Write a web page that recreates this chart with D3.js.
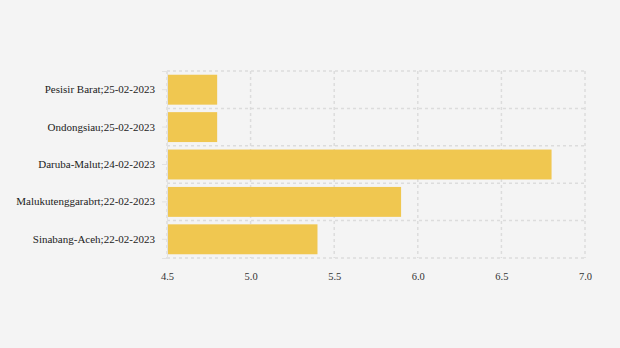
<!DOCTYPE html>
<html>
<head>
<meta charset="utf-8">
<script src="https://cdn.jsdelivr.net/npm/d3@7"></script>
<style>
  html, body { margin: 0; padding: 0; background: #f4f4f4; }
  svg { display: block; }
  svg text { font-family: "Liberation Serif", "Times New Roman", Times, serif; }
</style>
</head>
<body>
<div id="chart"></div>
<script>
// Earthquake magnitudes by location and date
const categories = [
  "Pesisir Barat;25-02-2023",
  "Ondongsiau;25-02-2023",
  "Daruba-Malut;24-02-2023",
  "Malukutenggarabrt;22-02-2023",
  "Sinabang-Aceh;22-02-2023"
];
const magnitudes = [4.8, 4.8, 6.8, 5.9, 5.4];
const xTicks = [4.5, 5.0, 5.5, 6.0, 6.5, 7.0];

const width = 620, height = 348;
const margin = { top: 71, right: 35, bottom: 90, left: 167 };
const innerW = width - margin.left - margin.right;
const innerH = height - margin.top - margin.bottom;
const serif = "'Liberation Serif', 'Times New Roman', Times, serif";

const svg = d3.select("#chart").append("svg")
  .attr("width", width).attr("height", height);
svg.append("rect").attr("width", width).attr("height", height).attr("fill", "#f4f4f4");

const g = svg.append("g").attr("transform", `translate(${margin.left},${margin.top})`);

const x = d3.scaleLinear().domain([4.5, 7.0]).range([0, innerW]);
const y = d3.scaleBand().domain(categories).range([0, innerH]).paddingInner(0.2).paddingOuter(0.1);

// Grid: vertical lines at ticks, horizontal lines at band boundaries
const step = y.step();
const bandEdges = d3.range(categories.length + 1).map(i => i * step);
g.append("g").selectAll("line").data(xTicks).join("line")
  .attr("x1", d => x(d)).attr("x2", d => x(d))
  .attr("y1", 0).attr("y2", innerH)
  .attr("stroke", "#dcdcdc").attr("stroke-width", 1.5).attr("stroke-dasharray", "3,3");
g.append("g").selectAll("line").data(bandEdges).join("line")
  .attr("x1", 0).attr("x2", innerW)
  .attr("y1", d => d).attr("y2", d => d)
  .attr("stroke", "#dcdcdc").attr("stroke-width", 1.5).attr("stroke-dasharray", "3,3");

// Bars
g.append("g").selectAll("rect").data(magnitudes).join("rect")
  .attr("x", x(4.5))
  .attr("y", (d, i) => y(categories[i]))
  .attr("width", d => x(d) - x(4.5))
  .attr("height", y.bandwidth())
  .attr("fill", "#f0c750");

// Left axis
const yAxis = g.append("g").call(d3.axisLeft(y).tickSize(5).tickPadding(7))
  .attr("font-family", serif);
yAxis.select(".domain").attr("stroke", "#e2e2e2");
yAxis.selectAll(".tick line").attr("stroke", "#e2e2e2");
yAxis.selectAll("text")
  .style("font-family", serif)
  .attr("font-size", 11).attr("fill", "#222");

// Bottom axis
const xAxis = g.append("g").attr("transform", `translate(0,${innerH})`)
  .call(d3.axisBottom(x).tickValues(xTicks).tickFormat(d3.format(".1f")).tickSize(0).tickPadding(15))
  .attr("font-family", serif);
xAxis.select(".domain").remove();
xAxis.selectAll("text")
  .style("font-family", serif)
  .attr("font-size", 10.5).attr("fill", "#333");
</script>
</body>
</html>
